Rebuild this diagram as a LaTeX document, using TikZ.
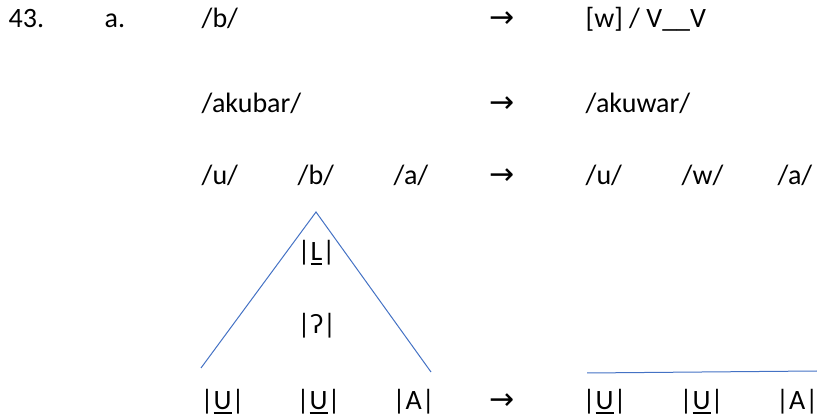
\documentclass[tikz,border=0pt]{standalone}
\usepackage{fontspec}
\setmainfont{Carlito}
\newfontfamily\arrowfont{DejaVu Sans}
\definecolor{linkblue}{HTML}{4472C4}
\newcommand\ulin[1]{\setbox0\hbox{#1}\rlap{\rule[-3.6pt]{\wd0}{1.9pt}}\box0}
\begin{document}
\begin{tikzpicture}[x=1pt,y=-1pt,
  txt/.style={anchor=base west, inner sep=0pt, font=\fontsize{28}{33}\selectfont},
  arr/.style={anchor=base west, inner sep=0pt, font=\arrowfont\fontsize{30}{34}\selectfont},
  link/.style={draw=linkblue, line width=1pt}]
\useasboundingbox (0,0) rectangle (817,419);
% row 1
\node[txt] (n43) at (8.5,28) {43.};
\node[txt] (na) at (104.5,28) {a.};
\node[txt] (r1b) at (201.5,28) {/b/};
\node[arr] (r1arr) at (489,28) {→};
\node[txt] (r1w) at (585.5,28) {[w] / V\_\_V};
% row 2
\node[txt] (r2l) at (201.5,113) {/akubar/};
\node[arr] (r2arr) at (489,113) {→};
\node[txt] (r2r) at (585.5,113) {/akuwar/};
% row 3
\node[txt] (r3u) at (201.5,185) {/u/};
\node[txt] (r3b) at (297.5,185) {/b/};
\node[txt] (r3a) at (393.5,185) {/a/};
\node[arr] (r3arr) at (489,185) {→};
\node[txt] (r3u2) at (585.5,185) {/u/};
\node[txt] (r3w) at (681.5,185) {/w/};
\node[txt] (r3a2) at (777.5,185) {/a/};
% inner elements
\node[txt] (elL) at (297.5,261) {|\ulin{L}|};
\node[txt] (elQ) at (297.5,334) {|ʔ|};
% bottom row
\node[txt] (bu1) at (200.5,410) {|\ulin{U}|};
\node[txt] (bu2) at (296.5,410) {|\ulin{U}|};
\node[txt] (ba1) at (392.5,410) {|A|};
\node[arr] (barr) at (489,410) {→};
\node[txt] (bu3) at (582.5,410) {|\ulin{U}|};
\node[txt] (bu4) at (679.5,410) {|\ulin{U}|};
\node[txt] (ba2) at (776,410) {|A|};
% connectors
\coordinate (apex) at (316,212);
\coordinate (legl) at (201,368);
\coordinate (legr) at (431,372);
\coordinate (barl) at (587,373);
\coordinate (barr2) at (817,371);
\draw[link] (legl) -- (apex) -- (legr);
\draw[link] (barl) -- (barr2);
\end{tikzpicture}
\end{document}
